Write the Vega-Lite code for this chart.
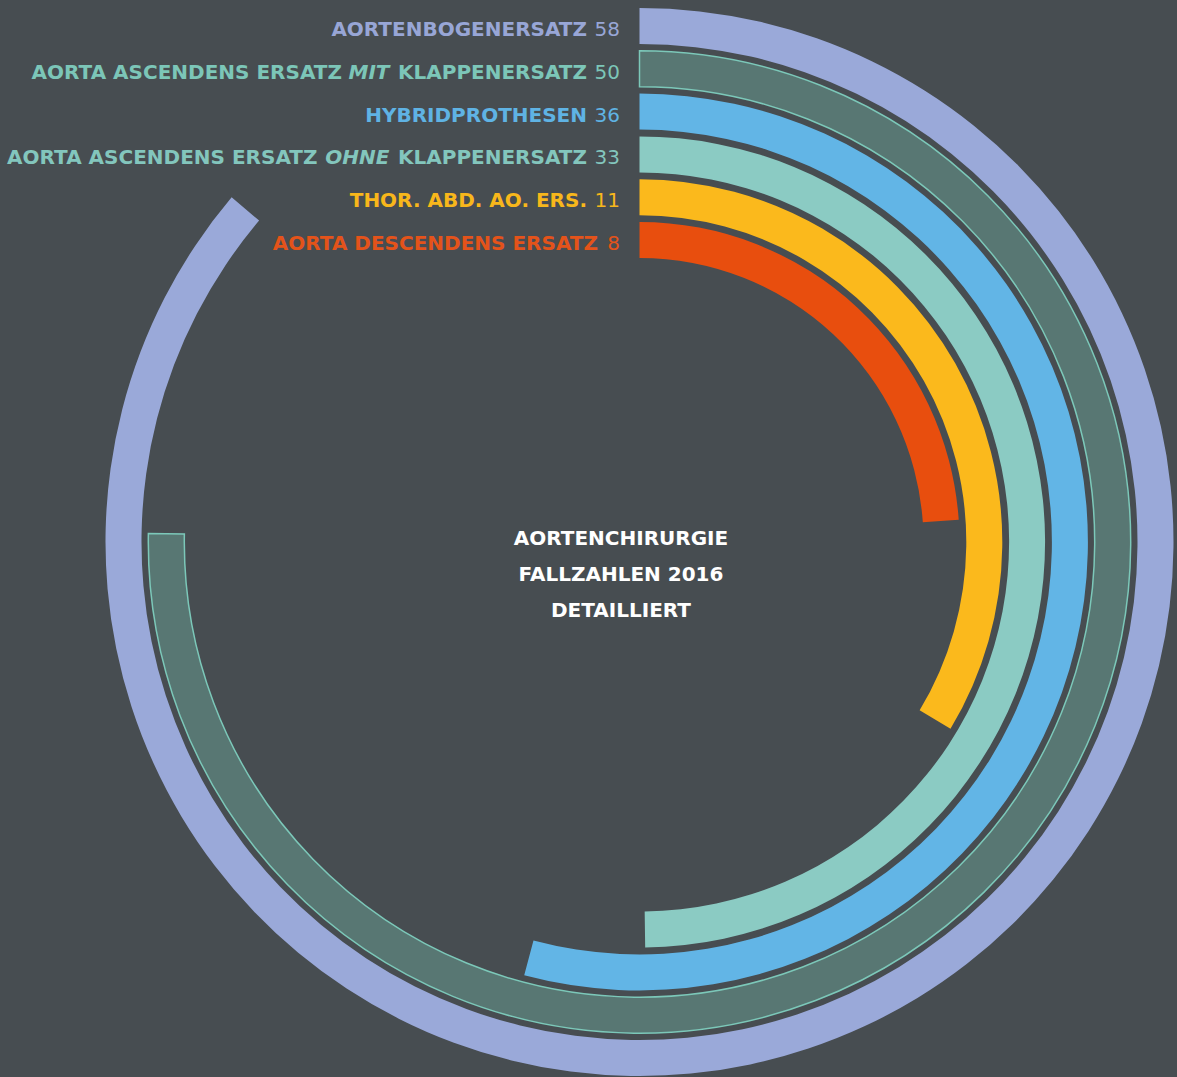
{
  "$schema": "https://vega.github.io/schema/vega-lite/v6.json",
  "width": 1075,
  "height": 1070,
  "autosize": {"type": "none"},
  "padding": {"left": 102, "top": 7, "right": 0, "bottom": 0},
  "background": "#474d51",
  "config": {"view": {"stroke": null}, "text": {"font": "DejaVu Sans", "fontSize": 20}},
  "data": {"values": [
    {"eingriff": "AORTENBOGENERSATZ", "vorne": null, "kursiv": null, "hinten": "AORTENBOGENERSATZ", "faelle": 58, "rang": 1},
    {"eingriff": "AORTA ASCENDENS ERSATZ MIT KLAPPENERSATZ", "vorne": "AORTA ASCENDENS ERSATZ", "kursiv": "MIT", "hinten": "KLAPPENERSATZ", "faelle": 50, "rang": 2},
    {"eingriff": "HYBRIDPROTHESEN", "vorne": null, "kursiv": null, "hinten": "HYBRIDPROTHESEN", "faelle": 36, "rang": 3},
    {"eingriff": "AORTA ASCENDENS ERSATZ OHNE KLAPPENERSATZ", "vorne": "AORTA ASCENDENS ERSATZ", "kursiv": "OHNE", "hinten": "KLAPPENERSATZ", "faelle": 33, "rang": 4},
    {"eingriff": "THOR. ABD. AO. ERS.", "vorne": null, "kursiv": null, "hinten": "THOR. ABD. AO. ERS.", "faelle": 11, "rang": 5},
    {"eingriff": "AORTA DESCENDENS ERSATZ", "vorne": null, "kursiv": null, "hinten": "AORTA DESCENDENS ERSATZ", "faelle": 8, "rang": 6}
  ]},
  "layer": [
    {
      "mark": {"type": "arc", "radius2Offset": -36, "strokeWidth": 1.5},
      "encoding": {
        "theta": {"field": "faelle", "type": "quantitative", "stack": null,
          "scale": {"type": "linear", "domain": [0, 8, 11, 33, 36, 50, 58], "range": [0, 1.501, 2.1118, 3.1276, 3.4016, 4.7298, 5.414]}},
        "theta2": {"datum": 0},
        "radius": {"field": "rang", "type": "quantitative", "scale": {"type": "linear", "domain": [1, 6], "range": [534, 320], "zero": false}},
        "radius2": {"field": "rang"},
        "fill": {"field": "eingriff", "type": "nominal", "legend": null,
          "scale": {"domain": ["AORTENBOGENERSATZ", "AORTA ASCENDENS ERSATZ MIT KLAPPENERSATZ", "HYBRIDPROTHESEN", "AORTA ASCENDENS ERSATZ OHNE KLAPPENERSATZ", "THOR. ABD. AO. ERS.", "AORTA DESCENDENS ERSATZ"],
                    "range": ["#9aa9d9", "#587773", "#62b5e6", "#8bcbc3", "#fbb91c", "#e84e0e"]}},
        "stroke": {"field": "eingriff", "type": "nominal", "legend": null,
          "scale": {"domain": ["AORTENBOGENERSATZ", "AORTA ASCENDENS ERSATZ MIT KLAPPENERSATZ", "HYBRIDPROTHESEN", "AORTA ASCENDENS ERSATZ OHNE KLAPPENERSATZ", "THOR. ABD. AO. ERS.", "AORTA DESCENDENS ERSATZ"],
                    "range": ["transparent", "#7cc8b9", "transparent", "transparent", "transparent", "transparent"]}}
      }
    },
    {
      "mark": {"type": "text", "align": "right", "baseline": "middle", "dx": -19.5, "radiusOffset": -22},
      "encoding": {
        "theta": {"datum": 0},
        "radius": {"field": "rang", "type": "quantitative"},
        "text": {"field": "faelle", "type": "quantitative"},
        "color": {"field": "eingriff", "type": "nominal", "legend": null,
          "scale": {"domain": ["AORTENBOGENERSATZ", "AORTA ASCENDENS ERSATZ MIT KLAPPENERSATZ", "HYBRIDPROTHESEN", "AORTA ASCENDENS ERSATZ OHNE KLAPPENERSATZ", "THOR. ABD. AO. ERS.", "AORTA DESCENDENS ERSATZ"],
                    "range": ["#98a6d6", "#7cc6b8", "#5fb3e4", "#83c6bd", "#f8b71b", "#e4531a"]}}
      }
    },
    {
      "mark": {"type": "text", "align": "right", "baseline": "middle", "fontWeight": "bold", "dx": {"expr": "datum.faelle < 10 ? -41.5 : -52.5"}, "radiusOffset": -22},
      "encoding": {
        "theta": {"datum": 0},
        "radius": {"field": "rang", "type": "quantitative"},
        "text": {"field": "hinten", "type": "nominal"},
        "color": {"field": "eingriff", "type": "nominal", "legend": null}
      }
    },
    {
      "transform": [{"filter": "datum.kursiv != null"}],
      "mark": {"type": "text", "align": "right", "baseline": "middle", "fontWeight": "bold", "fontStyle": "italic", "dx": -250, "radiusOffset": -22},
      "encoding": {
        "theta": {"datum": 0},
        "radius": {"field": "rang", "type": "quantitative"},
        "text": {"field": "kursiv", "type": "nominal"},
        "color": {"field": "eingriff", "type": "nominal", "legend": null}
      }
    },
    {
      "transform": [{"filter": "datum.vorne != null"}],
      "mark": {"type": "text", "align": "right", "baseline": "middle", "fontWeight": "bold", "dx": {"expr": "datum.kursiv === 'MIT' ? -297.5 : -322"}, "radiusOffset": -22},
      "encoding": {
        "theta": {"datum": 0},
        "radius": {"field": "rang", "type": "quantitative"},
        "text": {"field": "vorne", "type": "nominal"},
        "color": {"field": "eingriff", "type": "nominal", "legend": null}
      }
    },
    {
      "data": {"values": [{"thema": "Aortenchirurgie"}]},
      "mark": {"type": "text", "text": ["AORTENCHIRURGIE", "FALLZAHLEN 2016", "DETAILLIERT"], "align": "center", "baseline": "middle", "lineHeight": 36, "dx": -18.5, "dy": -3, "fontWeight": "bold", "color": "#ffffff"},
      "encoding": {}
    }
  ]
}
